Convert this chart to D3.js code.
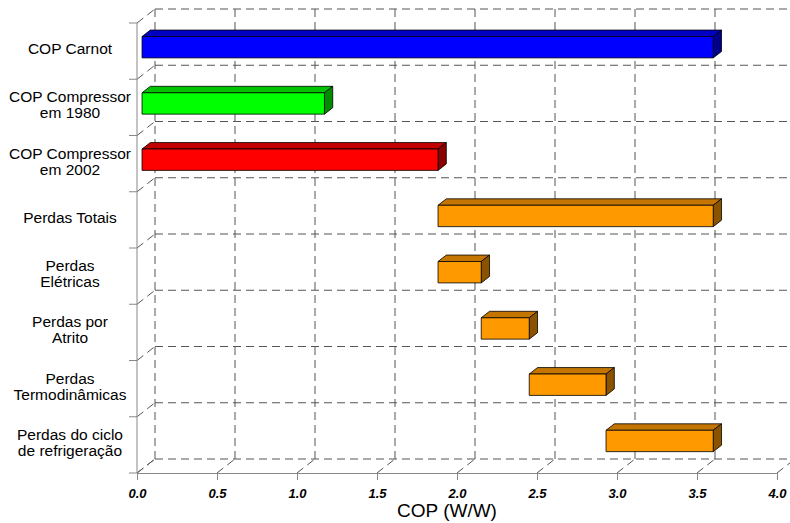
<!DOCTYPE html>
<html>
<head>
<meta charset="utf-8">
<script src="https://cdn.jsdelivr.net/npm/d3@7"></script>
<style>
  html, body { margin: 0; padding: 0; background: #fff; }
  svg { display: block; font-family: Arial, "Liberation Sans", sans-serif; }
</style>
</head>
<body>
<svg id="chart" width="790" height="523"></svg>
<script>
// Categories (top to bottom), bar start / end on the COP axis
const categories = [
  "COP Carnot",
  "COP Compressor\nem 1980",
  "COP Compressor\nem 2002",
  "Perdas Totais",
  "Perdas\nElétricas",
  "Perdas por\nAtrito",
  "Perdas\nTermodinâmicas",
  "Perdas do ciclo\nde refrigeração"
];
const barStart = [0, 0, 0, 1.85, 1.85, 2.12, 2.42, 2.90];
const barEnd   = [3.57, 1.14, 1.85, 3.57, 2.12, 2.42, 2.90, 3.57];
const barColor = ["#0000ff", "#00ff00", "#ff0000", "#ff9900", "#ff9900", "#ff9900", "#ff9900", "#ff9900"];
const xTicks = [0, 0.5, 1.0, 1.5, 2.0, 2.5, 3.0, 3.5, 4.0];
const xTitle = "COP (W/W)";

const svg = d3.select("#chart");

// Front plane geometry and the depth vector to the back wall
const pLeft = 137, pRight = 777, pTop = 23, pBottom = 473;
const depth = { x: 18, y: -14 };
const barFront = 0.28, barBack = 0.74;   // bar placement along the depth
const barThick = 0.38;                   // fraction of a category band

const x = d3.scaleLinear().domain([0, 4]).range([pLeft, pRight]);
const y = d3.scaleBand().domain(categories).range([pTop, pBottom]).padding(0);
const bw = y.bandwidth();
const bounds = d3.range(categories.length + 1).map(i => pTop + i * bw);

const grid = svg.append("g")
  .attr("fill", "none")
  .attr("stroke", "#555")
  .attr("stroke-width", 1)
  .attr("stroke-dasharray", "8,5");

// Back wall: horizontal lines at category boundaries
grid.selectAll("line.h").data(bounds).join("line")
  .attr("class", "h")
  .attr("x1", pLeft + depth.x).attr("x2", pRight + depth.x)
  .attr("y1", d => d + depth.y).attr("y2", d => d + depth.y);

// Back wall: vertical lines at each tick
grid.selectAll("line.v").data(xTicks).join("line")
  .attr("class", "v")
  .attr("x1", d => x(d) + depth.x).attr("x2", d => x(d) + depth.x)
  .attr("y1", pTop + depth.y).attr("y2", pBottom + depth.y);

// Depth lines from the front axes to the back wall
grid.selectAll("line.dx").data(xTicks).join("line")
  .attr("class", "dx")
  .attr("x1", d => x(d)).attr("y1", pBottom)
  .attr("x2", d => x(d) + depth.x).attr("y2", pBottom + depth.y);
grid.selectAll("line.dy").data(bounds).join("line")
  .attr("class", "dy")
  .attr("x1", pLeft).attr("y1", d => d)
  .attr("x2", pLeft + depth.x).attr("y2", d => d + depth.y);

// Front X axis
const xAxis = svg.append("g")
  .attr("transform", `translate(0,${pBottom})`)
  .call(d3.axisBottom(x).tickValues(xTicks).tickFormat(d3.format(".1f"))
    .tickSize(7).tickSizeOuter(0));
xAxis.select(".domain").attr("stroke", "#888");
xAxis.selectAll(".tick line").attr("stroke", "#888");
xAxis.selectAll(".tick text")
  .attr("y", 25).attr("dy", 0)
  .attr("fill", "#000")
  .style("font-size", "13px")
  .style("font-weight", "bold")
  .style("font-style", "italic")
  .style("font-family", "Arial, 'Liberation Sans', sans-serif");

svg.append("text")
  .attr("x", 447).attr("y", 517)
  .attr("text-anchor", "middle")
  .style("font-size", "19px")
  .attr("fill", "#000")
  .text(xTitle);

// Front Y axis with ticks at category boundaries
const yAxis = svg.append("g").attr("stroke", "#888").attr("stroke-width", 1);
yAxis.append("line").attr("x1", pLeft).attr("x2", pLeft).attr("y1", pTop).attr("y2", pBottom);
yAxis.selectAll("line.t").data(bounds).join("line")
  .attr("class", "t")
  .attr("x1", pLeft - 8).attr("x2", pLeft)
  .attr("y1", d => d).attr("y2", d => d);

// Category labels (multi-line, centred)
const lineH = 16;
svg.append("g").selectAll("text").data(categories).join("text")
  .attr("text-anchor", "middle")
  .attr("fill", "#000")
  .style("font-size", "15.5px")
  .each(function(d) {
    const lines = d.split("\n");
    const cy = y(d) + bw / 2 - 2;
    const y0 = cy - (lines.length - 1) * lineH / 2 + 5;
    d3.select(this).selectAll("tspan").data(lines).join("tspan")
      .attr("x", 70)
      .attr("y", (l, i) => y0 + i * lineH)
      .text(l => l);
  });

// 3D bars
function shade(c, k) { return d3.color(c).darker(k).formatHex(); }
const bars = svg.append("g").attr("stroke", "#000").attr("stroke-width", 0.8)
  .attr("stroke-linejoin", "round");

categories.forEach((cat, i) => {
  const fx = depth.x * barFront, fy = depth.y * barFront;
  const bx = depth.x * barBack, by = depth.y * barBack;
  const h = bw * barThick;
  const cy = y(cat) + bw / 2;
  const x0 = x(barStart[i]), x1 = x(barEnd[i]);
  const yt = cy - h / 2, yb = cy + h / 2;
  const col = barColor[i];
  const g = bars.append("g");
  // top face
  g.append("polygon")
    .attr("points", [[x0 + fx, yt + fy], [x1 + fx, yt + fy], [x1 + bx, yt + by], [x0 + bx, yt + by]].join(" "))
    .attr("fill", shade(col, 0.75));
  // right side face
  g.append("polygon")
    .attr("points", [[x1 + fx, yt + fy], [x1 + bx, yt + by], [x1 + bx, yb + by], [x1 + fx, yb + fy]].join(" "))
    .attr("fill", shade(col, 1.7));
  // front face
  g.append("rect")
    .attr("x", x0 + fx).attr("y", yt + fy)
    .attr("width", x1 - x0).attr("height", h)
    .attr("fill", col);
});
</script>
</body>
</html>
